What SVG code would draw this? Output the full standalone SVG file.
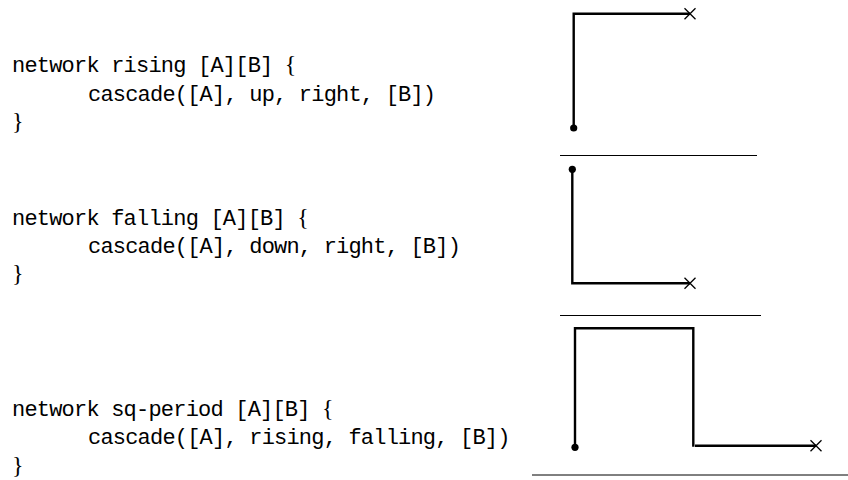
<svg xmlns="http://www.w3.org/2000/svg" width="848" height="480" viewBox="0 0 848 480">
<defs>
<style>
.code{font-family:"Liberation Mono","DejaVu Sans Mono",monospace;font-size:22px;letter-spacing:-0.8px;fill:#000}
.br{font-family:"Liberation Serif","DejaVu Serif",serif;font-size:24px;letter-spacing:0;fill:#000}
.wire{fill:none;stroke:#000;stroke-width:2.4;stroke-linecap:butt;stroke-linejoin:miter}
.sep{fill:none;stroke:#000;stroke-width:1}
.x{fill:none;stroke:#000;stroke-width:1.3}
</style>
<g id="xmark"><path class="x" d="M-5.5,-5.5 L5.5,5.5 M-5.5,5.5 L5.5,-5.5"/></g>
</defs>
<rect width="848" height="480" fill="#fff"/>

<g id="code-rising">
<text class="code" x="12" y="72">network rising [A][B] <tspan class="br">{</tspan></text>
<text class="code" x="88" y="101">cascade([A], up, right, [B])</text>
<text class="br" x="12" y="129">}</text>
</g>
<g id="code-falling">
<text class="code" x="12" y="225">network falling [A][B] <tspan class="br">{</tspan></text>
<text class="code" x="88" y="253">cascade([A], down, right, [B])</text>
<text class="br" x="12" y="281">}</text>
</g>
<g id="code-sq-period">
<text class="code" x="12" y="416">network sq-period [A][B] <tspan class="br">{</tspan></text>
<text class="code" x="88" y="444">cascade([A], rising, falling, [B])</text>
<text class="br" x="12" y="473">}</text>
</g>

<g id="separators">
<line class="sep" x1="560" y1="155.5" x2="757" y2="155.5"/>
<line class="sep" x1="560" y1="315.5" x2="761" y2="315.5"/>
<line class="sep" x1="532" y1="475" x2="848" y2="475" stroke="#555"/>
</g>

<g id="connectors">
<path class="wire" d="M573.7,128 V13.7 H690"/>
<path class="wire" d="M572.3,169.3 V283.3 H690"/>
<path class="wire" d="M575,447.3 V328.3 H693.3 V446.7"/>
<path class="wire" d="M695,445.7 H816"/>
</g>

<g id="node-rising-start"><circle cx="573.7" cy="128" r="3.6" fill="#000"/></g>
<g id="node-rising-end"><use href="#xmark" x="690" y="13.7"/></g>
<g id="node-falling-start"><circle cx="572.3" cy="169.3" r="3.6" fill="#000"/></g>
<g id="node-falling-end"><use href="#xmark" x="690" y="283.3"/></g>
<g id="node-sq-start"><circle cx="575" cy="447.3" r="3.6" fill="#000"/></g>
<g id="node-sq-end"><use href="#xmark" x="816" y="445.7"/></g>
</svg>
